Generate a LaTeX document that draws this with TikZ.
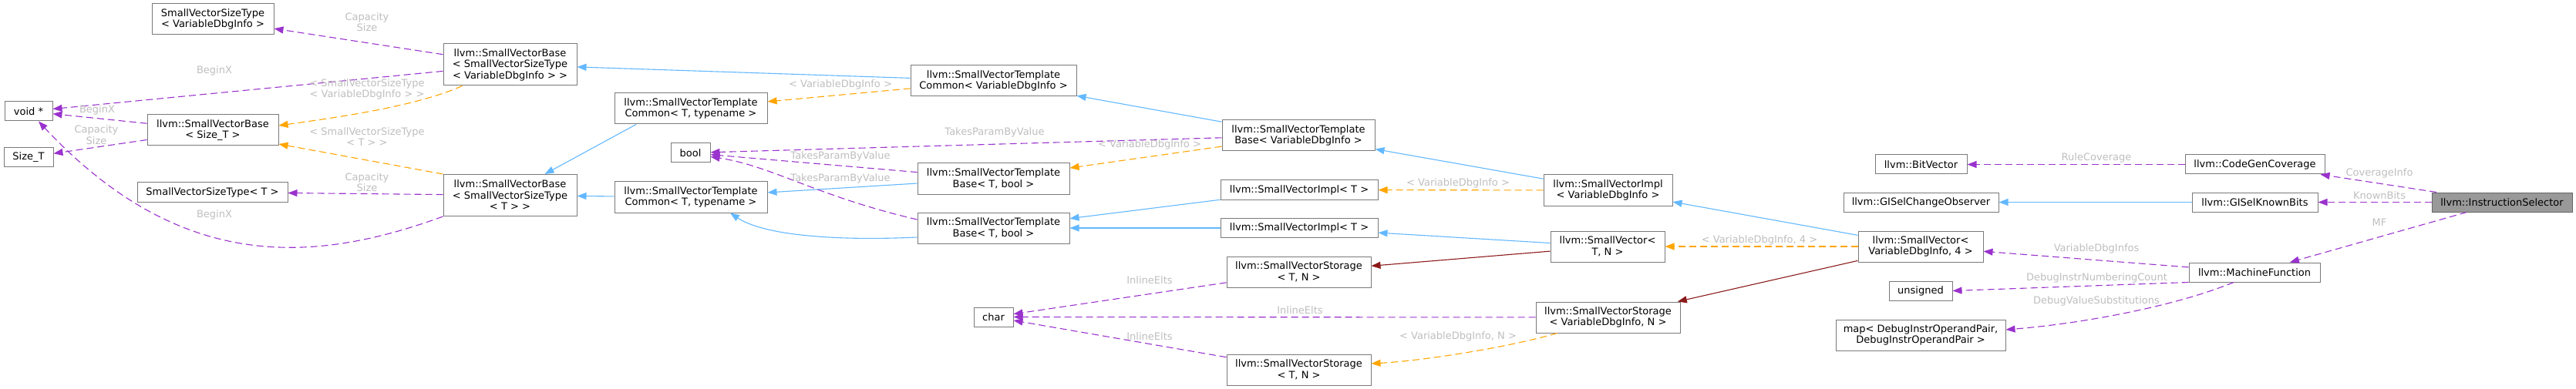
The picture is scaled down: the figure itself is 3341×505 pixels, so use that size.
\documentclass[tikz,border=0pt]{standalone}
\usepackage{fontspec}
\setmainfont{DejaVu Sans}
\usetikzlibrary{arrows.meta}
\definecolor{inhblue}{HTML}{63B8FF}
\definecolor{usepurple}{HTML}{9A32CD}
\definecolor{tplorange}{HTML}{FFA500}
\definecolor{privred}{HTML}{8B1A1A}
\definecolor{lblgray}{HTML}{BEBEBE}
\definecolor{boxgray}{HTML}{7A7A7A}
\definecolor{rootfill}{HTML}{999999}
\definecolor{rootdraw}{HTML}{666666}

\begin{document}
\begin{tikzpicture}[
  x=1pt, y=-1pt,
  font=\fontsize{13}{14.5}\selectfont,
  cls/.style={draw=boxgray, fill=white, line width=1pt, align=center, inner sep=0pt, minimum height=25pt},
  two/.style={minimum height=40pt},
  three/.style={minimum height=54pt},
  root/.style={cls, fill=rootfill, draw=rootdraw},
  lbl/.style={text=lblgray, align=center, inner sep=0pt},
  tip/.style={-{Triangle[length=12pt, width=9pt]}, line width=1.1pt},
  inh/.style={tip, draw=inhblue},
  privarr/.style={tip, draw=privred},
  usearr/.style={tip, draw=usepurple, dash pattern=on 9pt off 5pt},
  tplarr/.style={tip, draw=tplorange, dash pattern=on 9pt off 5pt}
]
\useasboundingbox (0,0) rectangle (3341,505);

\node[cls, two, minimum width=158pt] (sztVDI) at (276,25) {SmallVectorSizeType\\< VariableDbgInfo >};
\node[cls, minimum width=62pt] (voidp) at (37,144.5) {void *};
\node[cls, two, minimum width=170pt] (svbST) at (276,169) {llvm::SmallVectorBase\\< Size\_T >};
\node[cls, minimum width=64pt] (sizeT) at (37,204) {Size\_T};
\node[cls, minimum width=195pt] (sztT) at (275.5,249.5) {SmallVectorSizeType< T >};
\node[cls, three, minimum width=173pt] (svbVDI) at (661.5,84) {llvm::SmallVectorBase\\< SmallVectorSizeType\\< VariableDbgInfo > >};
\node[cls, three, minimum width=173pt] (svbT) at (661.5,253.5) {llvm::SmallVectorBase\\< SmallVectorSizeType\\< T > >};
\node[cls, two, minimum width=198pt] (svtcT1) at (896,141) {llvm::SmallVectorTemplate\\Common< T, typename >};
\node[cls, minimum width=51pt] (boolN) at (895.5,198.5) {bool};
\node[cls, two, minimum width=198pt] (svtcT2) at (896,256) {llvm::SmallVectorTemplate\\Common< T, typename >};
\node[cls, two, minimum width=215pt] (svtcVDI) at (1288.5,105) {llvm::SmallVectorTemplate\\Common< VariableDbgInfo >};
\node[cls, two, minimum width=198pt] (svtbVDI) at (1684,176) {llvm::SmallVectorTemplate\\Base< VariableDbgInfo >};
\node[cls, two, minimum width=197pt] (svtbT1) at (1288.5,232) {llvm::SmallVectorTemplate\\Base< T, bool >};
\node[cls, two, minimum width=197pt] (svtbT2) at (1288.5,296) {llvm::SmallVectorTemplate\\Base< T, bool >};
\node[cls, minimum width=204pt] (sviT1) at (1685,246.5) {llvm::SmallVectorImpl< T >};
\node[cls, minimum width=204pt] (sviT2) at (1685,296) {llvm::SmallVectorImpl< T >};
\node[cls, two, minimum width=187pt] (svsT1) at (1684.5,353) {llvm::SmallVectorStorage\\< T, N >};
\node[cls, minimum width=51pt] (charN) at (1288.5,411.5) {char};
\node[cls, two, minimum width=187pt] (svsT2) at (1684.5,480) {llvm::SmallVectorStorage\\< T, N >};
\node[cls, two, minimum width=167pt] (sviVDI) at (2085.5,247) {llvm::SmallVectorImpl\\< VariableDbgInfo >};
\node[cls, two, minimum width=148pt] (svTN) at (2085,320) {llvm::SmallVector<\\T, N >};
\node[cls, two, minimum width=187pt] (svsVDI) at (2085.5,412) {llvm::SmallVectorStorage\\< VariableDbgInfo, N >};
\node[cls, minimum width=119pt] (bitv) at (2491.5,213.5) {llvm::BitVector};
\node[cls, minimum width=201pt] (gco) at (2491.5,262.5) {llvm::GISelChangeObserver};
\node[cls, two, minimum width=162pt] (svVDI4) at (2491,320) {llvm::SmallVector<\\VariableDbgInfo, 4 >};
\node[cls, minimum width=82pt] (uns) at (2491,377.5) {unsigned};
\node[cls, two, minimum width=220pt] (dmap) at (2491,435) {map< DebugInstrOperandPair,\\DebugInstrOperandPair >};
\node[cls, minimum width=181pt] (cgc) at (2924.5,213.5) {llvm::CodeGenCoverage};
\node[cls, minimum width=163pt] (gkb) at (2924.5,262.5) {llvm::GISelKnownBits};
\node[root, minimum width=182pt] (isel) at (3245,262.5) {llvm::InstructionSelector};
\node[cls, minimum width=170pt] (mf) at (2924,353.5) {llvm::MachineFunction};

\draw[usearr] (svbVDI) -- (sztVDI);
\draw[usearr] (svbVDI) -- (voidp);
\draw[usearr] (svbST) -- (voidp);
\draw[usearr] (svbST) -- (sizeT);
\draw[usearr] (svbT.south west) .. controls (400,345) and (230,350) .. ([xshift=13pt]voidp.south);
\draw[usearr] (svbT) -- (sztT);
\draw[tplarr] ([xshift=25pt]svbVDI.south west) .. controls (540,138) and (440,152) .. ([yshift=6pt]svbST.east);
\draw[tplarr] (svbT.north west) -- ([yshift=-18pt]svbST.east);
\draw[inh] (svtcVDI) -- (svbVDI);
\draw[tplarr] (svtcVDI) -- (svtcT1);
\draw[inh] ([xshift=-71pt]svtcT1.south) -- ([xshift=45pt]svbT.north);
\draw[inh] (svtcT2) -- (svbT);
\draw[inh] (svtbVDI) -- (svtcVDI);
\draw[usearr] (svtbVDI) -- (boolN);
\draw[tplarr] (svtbVDI) -- (svtbT1);
\draw[usearr] (svtbT1) -- (boolN);
\draw[inh] (svtbT1) -- (svtcT2);
\draw[usearr] ([yshift=11pt]svtbT2.west) .. controls (1060,255) and (1000,215) .. ([yshift=-5pt]boolN.east);
\draw[inh] ([yshift=-12pt]svtbT2.west) .. controls (1080,313) and (990,305) .. ([xshift=51pt]svtcT2.south);
\draw[inh] (sviT1) -- (svtbT2);
\draw[inh] (sviT2) -- (svtbT2);
\draw[inh] (sviVDI) -- (svtbVDI);
\draw[tplarr] (sviVDI) -- (sviT1);
\draw[inh] (svTN) -- (sviT2);
\draw[privarr] (svTN) -- (svsT1);
\draw[usearr] (svsT1) -- (charN);
\draw[usearr] (svsVDI) -- (charN);
\draw[usearr] (svsT2) -- (charN);
\draw[tplarr] ([xshift=-66pt]svsVDI.south) .. controls (1960,450) and (1850,468) .. ([yshift=8pt]svsT2.east);
\draw[inh] (svVDI4) -- (sviVDI);
\draw[tplarr] (svVDI4) -- (svTN);
\draw[privarr] (svVDI4) -- (svsVDI);
\draw[usearr] (mf) -- (svVDI4);
\draw[usearr] (mf.south west) -- (uns.east);
\draw[usearr] ([xshift=-27pt]mf.south) .. controls (2820,398) and (2700,420) .. ([yshift=7pt]dmap.east);
\draw[usearr] (cgc) -- (bitv);
\draw[inh] (gkb) -- (gco);
\draw[usearr] (isel) -- (cgc);
\draw[usearr] (isel) -- (gkb);
\draw[usearr] (isel) -- (mf);

\node[lbl] (lCapA) at (476,28.5) {Capacity\\Size};
\node[lbl] (lBegA) at (278,92) {BeginX};
\node[lbl] (lTplA) at (476,116) {< SmallVectorSizeType\\< VariableDbgInfo > >};
\node[lbl] (lBegB) at (126,143) {BeginX};
\node[lbl] (lCapB) at (125,175) {Capacity\\Size};
\node[lbl] (lTplB) at (476,177.5) {< SmallVectorSizeType\\< T > >};
\node[lbl] (lCapC) at (476,236.5) {Capacity\\Size};
\node[lbl] (lBegC) at (278,279) {BeginX};
\node[lbl] (lTplC) at (1090,110) {< VariableDbgInfo >};
\node[lbl] (lTakA) at (1290,172) {TakesParamByValue};
\node[lbl] (lTakB) at (1090,203) {TakesParamByValue};
\node[lbl] (lTakC) at (1090,232) {TakesParamByValue};
\node[lbl] (lTplD) at (1491,188) {< VariableDbgInfo >};
\node[lbl] (lTplE) at (1891,238) {< VariableDbgInfo >};
\node[lbl] (lInlA) at (1491,364) {InlineElts};
\node[lbl] (lInlB) at (1686,403) {InlineElts};
\node[lbl] (lInlC) at (1491,436.5) {InlineElts};
\node[lbl] (lTplF) at (1891,436.5) {< VariableDbgInfo, N >};
\node[lbl] (lTplG) at (2282,311.5) {< VariableDbgInfo, 4 >};
\node[lbl] (lRule) at (2719,205) {RuleCoverage};
\node[lbl] (lVars) at (2719,323) {VariableDbgInfos};
\node[lbl] (lDbgN) at (2719.5,360.5) {DebugInstrNumberingCount};
\node[lbl] (lDbgS) at (2719,390.5) {DebugValueSubstitutions};
\node[lbl] (lCov) at (3086,225) {CoverageInfo};
\node[lbl] (lKnown) at (3086,254) {KnownBits};
\node[lbl] (lMF) at (3086,289) {MF};
\end{tikzpicture}
\end{document}
